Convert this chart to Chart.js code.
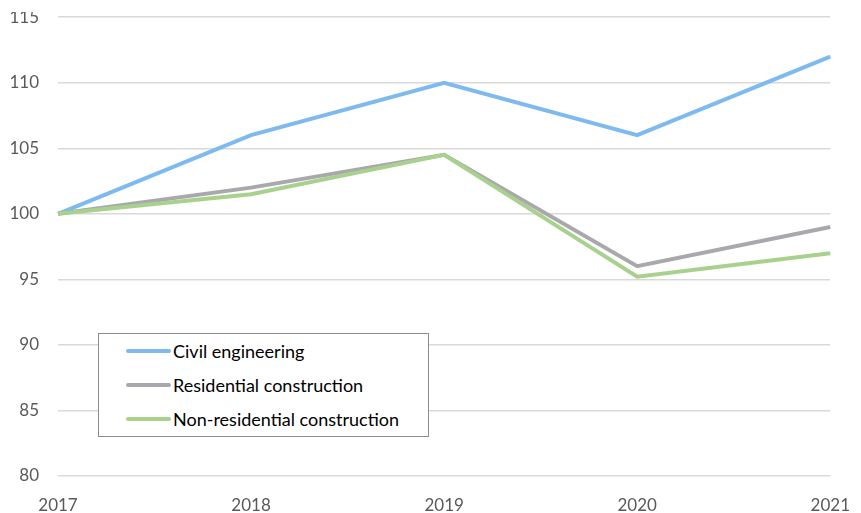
<!DOCTYPE html>
<html>
<head>
<meta charset="utf-8">
<script src="https://cdn.jsdelivr.net/npm/chart.js@4/dist/chart.umd.min.js"></script>
<style>
  html, body { margin: 0; padding: 0; background: #fff; }
  #wrap { position: relative; width: 861px; height: 513px; overflow: hidden; }
  #chart { position: absolute; left: 0; top: -12px; }
  #topCover { position: absolute; left: 0; top: 0; width: 52px; height: 12px; background: #fff; }
  #legend {
    position: absolute; left: 98px; top: 333px; width: 331px; height: 104px;
    border: 1px solid #8c8c8c; background: #fff; box-sizing: border-box;
    font-family: Lato, sans-serif; font-size: 18px; color: #000;
    padding-top: 0;
  }
  .item { display: flex; align-items: center; height: 34px; }
  .swatch { width: 45px; height: 4px; margin-left: 27px; margin-right: 2px; border-radius: 2px; }
</style>
</head>
<body>
<div id="wrap">
  <canvas id="chart" width="861" height="525"></canvas>
  <div id="topCover"></div>
  <div id="legend"></div>
</div>
<script>
const years = ["2017", "2018", "2019", "2020", "2021"];
const civil = [100, 106, 110, 106, 112];
const residential = [100, 102, 104.5, 96, 99];
const nonResidential = [100, 101.5, 104.5, 95.2, 97];

const seriesNames = ["Civil engineering", "Residential construction", "Non-residential construction"];
const seriesColors = ["#7fbaef", "#a9a9ad", "#a9d18e"];

Chart.defaults.font.family = "Lato, sans-serif";
Chart.defaults.font.size = 17;
Chart.defaults.color = "#595959";

const ctx = document.getElementById("chart").getContext("2d");
const chart = new Chart(ctx, {
  type: "line",
  data: {
    labels: years,
    datasets: [civil, residential, nonResidential].map((d, i) => ({
      label: seriesNames[i],
      data: d,
      borderColor: seriesColors[i],
      backgroundColor: seriesColors[i],
      borderWidth: 4,
      pointRadius: 0,
      tension: 0,
      order: 3 - i
    }))
  },
  options: {
    responsive: false,
    animation: false,
    layout: { padding: { top: 4, right: 26, left: 0, bottom: 0 } },
    plugins: { legend: { display: false }, tooltip: { enabled: false } },
    scales: {
      x: {
        offset: false,
        grid: { display: false },
        border: { display: false },
        ticks: { padding: 11, maxRotation: 0 },
        afterFit: s => { s.height = 37; }
      },
      y: {
        min: 80,
        max: 115,
        ticks: { stepSize: 5, padding: 19 },
        grid: { color: "#d9d9d9", lineWidth: 1.5, drawTicks: false },
        border: { display: false },
        afterFit: s => { s.width = 58; }
      }
    }
  }
});

// legend box built from the datasets
const legend = document.getElementById("legend");
chart.data.datasets.forEach(ds => {
  const row = document.createElement("div");
  row.className = "item";
  row.innerHTML = `<span class="swatch" style="background:${ds.borderColor}"></span><span>${ds.label}</span>`;
  legend.appendChild(row);
});
</script>
</body>
</html>
